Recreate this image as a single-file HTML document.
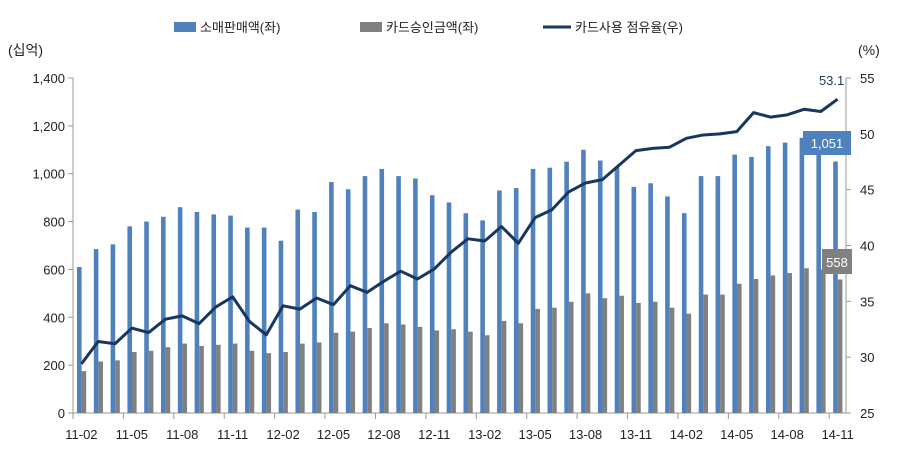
<!DOCTYPE html>
<html><head><meta charset="utf-8"><style>
body{margin:0;background:#fff;}
svg text{font-family:"Liberation Sans","Noto Sans CJK KR",sans-serif;}
</style></head><body>
<svg id="chart" width="906" height="452" xmlns="http://www.w3.org/2000/svg"></svg>
<script>
const categories=["11-02","11-03","11-04","11-05","11-06","11-07","11-08","11-09","11-10","11-11","11-12","12-01","12-02","12-03","12-04","12-05","12-06","12-07","12-08","12-09","12-10","12-11","12-12","13-01","13-02","13-03","13-04","13-05","13-06","13-07","13-08","13-09","13-10","13-11","13-12","14-01","14-02","14-03","14-04","14-05","14-06","14-07","14-08","14-09","14-10","14-11"];
const retailSales=[610,685,705,780,800,820,860,840,830,825,775,775,720,850,840,965,935,990,1020,990,980,910,880,835,805,930,940,1020,1025,1050,1100,1055,1030,945,960,905,835,990,990,1080,1070,1115,1130,1150,1145,1051];
const cardSales=[175,215,220,255,260,275,290,280,285,290,260,250,255,290,295,335,340,355,375,370,360,345,350,340,325,385,375,435,440,465,500,480,490,460,465,440,415,495,495,540,560,575,585,605,600,558];
const cardShare=[29.4,31.4,31.2,32.6,32.2,33.4,33.7,33.0,34.5,35.4,33.2,32.0,34.6,34.3,35.3,34.7,36.4,35.8,36.8,37.7,37.0,37.9,39.4,40.6,40.4,41.7,40.2,42.5,43.2,44.8,45.6,45.9,47.2,48.5,48.7,48.8,49.6,49.9,50.0,50.2,51.9,51.5,51.7,52.2,52.0,53.1];
const leftTicks=[0,200,400,600,800,1000,1200,1400];
const rightTicks=[25,30,35,40,45,50,55];

const svg=document.getElementById('chart');
const NS='http://www.w3.org/2000/svg';
const X0=73,X1=846,Y0=413,Y1=78;
const cw=(X1-X0)/categories.length;
const yL=v=>Y0-(v-0)/1400*(Y0-Y1);
const yR=v=>Y0-(v-25)/30*(Y0-Y1);
const xc=i=>X0+cw*(i+0.5);
function mk(tag,attrs,parent){const e=document.createElementNS(NS,tag);for(const k in attrs)e.setAttribute(k,attrs[k]);(parent||svg).appendChild(e);return e;}
function txt(s,attrs,parent){const e=mk('text',attrs,parent);e.textContent=s;return e;}

// axes
let a=mk('line',{x1:X0,y1:Y1,x2:X0,y2:Y0,stroke:'#999'});

a=mk('line',{x1:X1,y1:Y1,x2:X1,y2:Y0,stroke:'#999'});

a=mk('line',{x1:X0,y1:Y0,x2:X1,y2:Y0,stroke:'#999'});

leftTicks.forEach(v=>{
  mk('line',{x1:X0-5,y1:yL(v),x2:X0,y2:yL(v),stroke:'#999'});
  const t=txt(v.toLocaleString('en-US'),{x:X0-8,y:yL(v)+5,'text-anchor':'end','font-size':13,fill:'#222'});
  
});
rightTicks.forEach(v=>{
  mk('line',{x1:X1,y1:yR(v),x2:X1+5,y2:yR(v),stroke:'#999'});
  const t=txt(String(v),{x:X1+14,y:yR(v)+5,'font-size':13,fill:'#222'});
  
});
let t=txt('(십억)',{x:8,y:55,'font-size':14,fill:'#222'});

t=txt('(%)',{x:858,y:55,'font-size':14,fill:'#222'});


// bars
categories.forEach((c,i)=>{
  const bx=X0+cw*i;
  let r=mk('rect',{x:bx+4,y:yL(retailSales[i]),width:4.6,height:Y0-yL(retailSales[i]),fill:'#4f81bd'});
  
  r=mk('rect',{x:bx+8.6,y:yL(cardSales[i]),width:4.6,height:Y0-yL(cardSales[i]),fill:'#808080'});
  
  if(i%3===0){
    mk('line',{x1:bx,y1:Y0,x2:bx,y2:Y0+6,stroke:'#999'});
    const l=txt(c,{x:xc(i),y:Y0+26,'text-anchor':'middle','font-size':13,fill:'#222'});
    
  }
});
// line
const pts=cardShare.map((v,i)=>xc(i)+','+yR(v)).join(' ');
const pl=mk('polyline',{points:pts,fill:'none',stroke:'#17375e','stroke-width':3,'stroke-linejoin':'round'});


// data labels
const n=categories.length-1;
t=txt(String(cardShare[n]),{x:xc(n)-6,y:yR(cardShare[n])-14,'text-anchor':'middle','font-size':13,fill:'#1f3a5f'});

let g=mk('g',{});
mk('rect',{x:803,y:131,width:48,height:24,fill:'#4f81bd'},g);
txt(retailSales[n].toLocaleString('en-US'),{x:827,y:148,'text-anchor':'middle','font-size':13,fill:'#fff'},g);
g=mk('g',{});
mk('rect',{x:822,y:249,width:30,height:25,fill:'#808080'},g);
txt(String(cardSales[n]),{x:837,y:267,'text-anchor':'middle','font-size':13,fill:'#fff'},g);

// legend
const lg=mk('g',{});
let e=mk('g',{},lg);
mk('rect',{x:174,y:22,width:22,height:10,fill:'#4f81bd'},e);
txt('소매판매액(좌)',{x:200,y:32,'font-size':13,fill:'#222'},e);
e=mk('g',{},lg);
mk('rect',{x:360,y:22,width:22,height:10,fill:'#808080'},e);
txt('카드승인금액(좌)',{x:386,y:32,'font-size':13,fill:'#222'},e);
e=mk('g',{},lg);
mk('line',{x1:543,y1:27,x2:571,y2:27,stroke:'#17375e','stroke-width':3},e);
txt('카드사용 점유율(우)',{x:575,y:32,'font-size':13,fill:'#222'},e);
</script>
</body></html>
